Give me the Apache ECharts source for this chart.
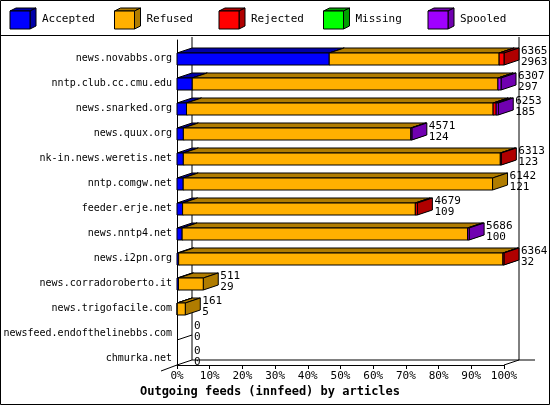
<!DOCTYPE html>
<html><head><meta charset="utf-8">
<script src="https://cdn.jsdelivr.net/npm/echarts@6/dist/echarts.min.js"></script>
<style>html,body{margin:0;padding:0;background:#fff}#main{width:550px;height:405px}</style>
</head><body><div id="main"></div>
<script>
var hosts = ['news.novabbs.org','nntp.club.cc.cmu.edu','news.snarked.org','news.quux.org','nk-in.news.weretis.net','nntp.comgw.net','feeder.erje.net','news.nntp4.net','news.i2pn.org','news.corradoroberto.it','news.trigofacile.com','newsfeed.endofthelinebbs.com','chmurka.net'];
var accepted = [2963, 297, 185, 124, 123, 121, 109, 100, 32, 29, 5, 0, 0];
var refused  = [3307, 5950, 5968, 4427, 6170, 6021, 4530, 5556, 6312, 482, 156, 0, 0];
var rejected = [95, 0, 60, 0, 20, 0, 40, 0, 20, 0, 0, 0, 0];
var missing  = [0, 0, 0, 0, 0, 0, 0, 0, 0, 0, 0, 0, 0];
var spooled  = [0, 60, 40, 20, 0, 0, 0, 30, 0, 0, 0, 0, 0];
var totals   = [6365, 6307, 6253, 4571, 6313, 6142, 4679, 5686, 6364, 511, 161, 0, 0];
var xTicks = ['0%','10%','20%','30%','40%','50%','60%','70%','80%','90%','100%'];

var maxTotal = 6365;
var DX = 15, DY = 5; // 3d depth
var FONT = 'DejaVu Sans Mono';
var names = ['Accepted','Refused','Rejected','Missing','Spooled'];
var fronts = ['#0000ff','#ffb000','#ff0000','#00ff00','#a000ff'];
var sides  = ['#0000a8','#b07c00','#b00000','#00a000','#7000b0'];
var values = [accepted, refused, rejected, missing, spooled];

var G = {left: 177, top: 40, width: 327, height: 325, outerBoundsMode: 'none', containLabel: false};
var chart = echarts.init(document.getElementById('main'));

function box(x0, x1, y0, h, dx, dy, fi) {
  var y1 = y0 + h;
  var st = {stroke: '#000', lineWidth: 1};
  return [
    {type: 'polygon', shape: {points: [[x0, y0], [x0 + dx, y0 - dy], [x1 + dx, y0 - dy], [x1, y0]]}, style: Object.assign({fill: sides[fi]}, st)},
    {type: 'polygon', shape: {points: [[x1, y0], [x1 + dx, y0 - dy], [x1 + dx, y1 - dy], [x1, y1]]}, style: Object.assign({fill: sides[fi]}, st)},
    {type: 'rect', shape: {x: x0, y: y0, width: x1 - x0, height: h}, style: Object.assign({fill: fronts[fi]}, st)}
  ];
}

var series = values.map(function (arr, si) {
  var data = arr.map(function (v, i) {
    var start = 0;
    for (var k = 0; k < si; k++) start += values[k][i];
    return [i, start, start + v];
  });
  return {
    name: names[si], type: 'custom', data: data, z: 2 + si,
    encode: {x: [1, 2], y: 0},
    renderItem: function (params, api) {
      if (api.value(2) <= api.value(1)) return null;
      var a = api.coord([api.value(1), api.value(0)]);
      var b = api.coord([api.value(2), api.value(0)]);
      return {type: 'group', children: box(a[0], b[0], a[1] + 0.5, 12, DX, DY, si)};
    }
  };
});

series.push({
  type: 'custom', z: 20, data: totals.map(function (t, i) { return [i, t, accepted[i]]; }),
  encode: {x: 1, y: 0},
  renderItem: function (params, api) {
    var p = api.coord([api.value(1), api.value(0)]);
    var kids = [
      {type: 'text', style: {x: p[0] + DX + 2, y: p[1] - 7, text: String(api.value(1)) + '\n' + String(api.value(2)), font: '11px ' + FONT, fill: '#000', lineHeight: 11}}
    ];
    if (api.value(1) === 0) {
      kids.push({type: 'line', shape: {x1: p[0], y1: p[1] + 12.5, x2: p[0] + DX, y2: p[1] + 12.5 - DY}, style: {stroke: '#000'}});
    }
    return {type: 'group', children: kids};
  }
});

var gx0 = G.left, gx1 = G.left + G.width, gy1 = G.top + G.height;
var legendItems = [];
names.forEach(function (n, i) {
  var x = 10 + i * 104.5;
  legendItems.push({type: 'group', children: box(x, x + 20, 11, 18, 6, 3, i)});
  legendItems.push({type: 'text', style: {x: x + 32, y: 14, text: n, font: '11px ' + FONT, fill: '#000'}});
});

chart.setOption({
  animation: false,
  grid: G,
  xAxis: {
    type: 'value', min: 0, max: maxTotal, interval: maxTotal / 10,
    axisLine: {show: true, lineStyle: {color: '#000'}},
    axisTick: {show: true, length: 4, lineStyle: {color: '#000'}},
    splitLine: {show: false},
    axisLabel: {color: '#000', fontFamily: FONT, fontSize: 11, margin: 6,
      formatter: function (v) { return xTicks[Math.round(v / maxTotal * 10)]; }}
  },
  yAxis: {
    type: 'category', data: hosts, inverse: true,
    axisLine: {show: true, lineStyle: {color: '#000'}},
    axisTick: {show: false},
    axisLabel: {color: '#000', fontFamily: FONT, fontSize: 10, margin: 5, verticalAlign: 'top', lineHeight: 12}
  },
  graphic: [
    {type: 'rect', shape: {x: 0.5, y: 0.5, width: 549, height: 404}, style: {fill: 'none', stroke: '#000'}},
    {type: 'line', shape: {x1: 0, y1: 35.5, x2: 550, y2: 35.5}, style: {stroke: '#000'}},
    {type: 'line', shape: {x1: gx0 + DX, y1: 37, x2: gx0 + DX, y2: gy1 - DY}, style: {stroke: '#000'}},
    {type: 'line', shape: {x1: gx1 + DX, y1: 37, x2: gx1 + DX, y2: gy1 - DY}, style: {stroke: '#000'}},
    {type: 'line', shape: {x1: gx0 + DX, y1: gy1 - DY, x2: gx1 + 31, y2: gy1 - DY}, style: {stroke: '#000'}},
    {type: 'line', shape: {x1: gx1, y1: gy1, x2: gx1 + DX, y2: gy1 - DY}, style: {stroke: '#000'}},
    {type: 'line', shape: {x1: gx0 - 16, y1: gy1 + 6, x2: gx0, y2: gy1}, style: {stroke: '#000'}},
    {type: 'text', style: {x: 270, y: 386, text: 'Outgoing feeds (innfeed) by articles', font: 'bold 12px ' + FONT, fill: '#000', align: 'center'}}
  ].concat(legendItems),
  series: series
});
</script></body></html>
